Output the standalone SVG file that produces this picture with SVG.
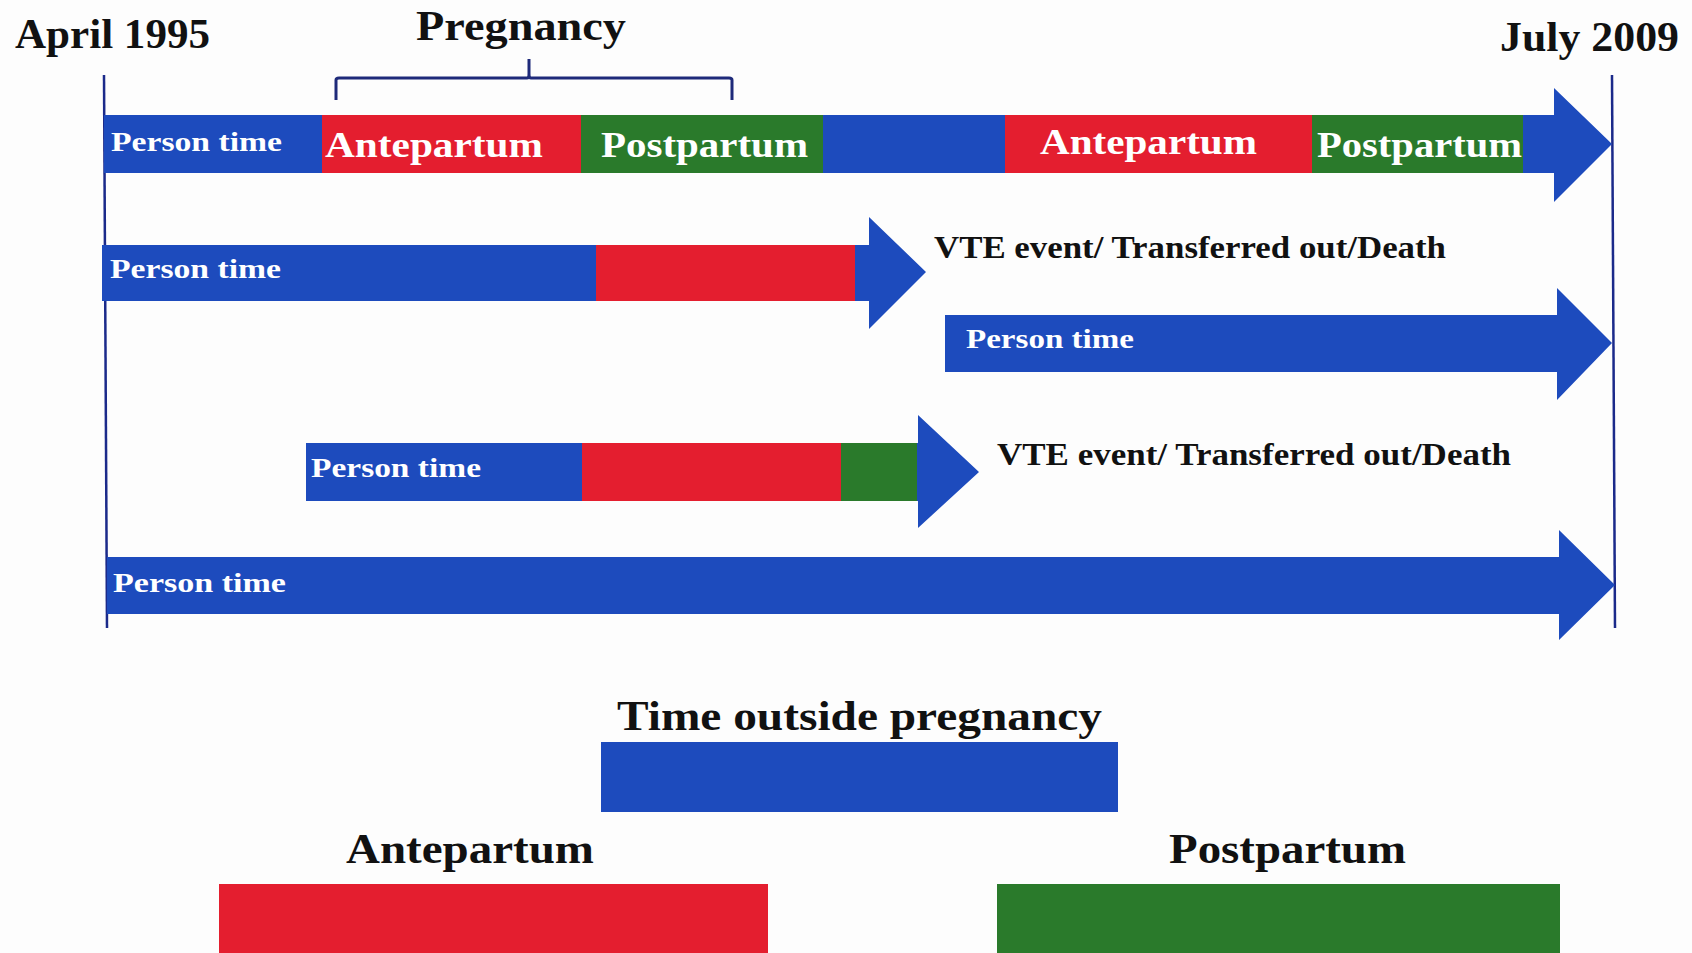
<svg xmlns="http://www.w3.org/2000/svg" width="1692" height="953" viewBox="0 0 1692 953">
<style>
.blue{fill:#1d4bbd}
.red{fill:#e41e2f}
.green{fill:#2a7a2b}
.axis{stroke:#1b2a8a;stroke-width:2.5;fill:none}
.lbl{font-family:"Liberation Serif","DejaVu Serif",serif;font-weight:bold;fill:#111}
.wt{font-family:"Liberation Serif","DejaVu Serif",serif;font-weight:bold;fill:#fff}
</style>
<rect width="1692" height="953" fill="#fdfdfd"/>
<g id="axes">
<line class="axis" x1="104" y1="75" x2="107" y2="628"/>
<line class="axis" x1="1612" y1="75" x2="1615" y2="628"/>
<text class="lbl" x="15" y="48" font-size="43" textLength="195" lengthAdjust="spacingAndGlyphs">April 1995</text>
<text class="lbl" x="1500" y="51" font-size="43" textLength="179" lengthAdjust="spacingAndGlyphs">July 2009</text>
</g>
<g id="pregnancy-bracket">
<path d="M336,100 V80 Q336,78 339,78 H527 Q529,78 529,74 V59 M529,74 Q529,78 531,78 H729 Q732,78 732,80 V100" stroke="#1e2a7a" stroke-width="3" fill="none"/>
<text class="lbl" x="416" y="40" font-size="43" textLength="210" lengthAdjust="spacingAndGlyphs">Pregnancy</text>
</g>
<g id="row1">
<polygon class="blue" points="104,115 1554,115 1554,88 1612,144 1554,202 1554,173 104,173"/>
<rect class="red" x="322" y="115" width="259" height="58"/>
<rect class="green" x="581" y="115" width="242" height="58"/>
<rect class="red" x="1005" y="115" width="307" height="58"/>
<rect class="green" x="1312" y="115" width="211" height="58"/>
<text class="wt" x="111" y="151" font-size="28" textLength="171" lengthAdjust="spacingAndGlyphs">Person time</text>
<text class="wt" x="325" y="157" font-size="35" textLength="218" lengthAdjust="spacingAndGlyphs">Antepartum</text>
<text class="wt" x="601" y="157" font-size="35" textLength="207" lengthAdjust="spacingAndGlyphs">Postpartum</text>
<text class="wt" x="1040" y="154" font-size="35" textLength="217" lengthAdjust="spacingAndGlyphs">Antepartum</text>
<text class="wt" x="1317" y="157" font-size="35" textLength="205" lengthAdjust="spacingAndGlyphs">Postpartum</text>
</g>
<g id="row2">
<polygon class="blue" points="102,245 869,245 869,217 926,272 869,329 869,301 102,301"/>
<rect class="red" x="596" y="245" width="259" height="56"/>
<text class="wt" x="110" y="278" font-size="28" textLength="171" lengthAdjust="spacingAndGlyphs">Person time</text>
<text class="lbl" x="934" y="258" font-size="32" textLength="512" lengthAdjust="spacingAndGlyphs">VTE event/ Transferred out/Death</text>
</g>
<g id="row3">
<polygon class="blue" points="945,315 1557,315 1557,288 1612,343 1557,400 1557,372 945,372"/>
<text class="wt" x="966" y="348" font-size="28" textLength="168" lengthAdjust="spacingAndGlyphs">Person time</text>
</g>
<g id="row4">
<polygon class="blue" points="306,443 918,443 918,415 979,472 918,528 918,501 306,501"/>
<rect class="red" x="582" y="443" width="259" height="58"/>
<rect class="green" x="841" y="443" width="76" height="58"/>
<text class="wt" x="311" y="477" font-size="28" textLength="170" lengthAdjust="spacingAndGlyphs">Person time</text>
<text class="lbl" x="997" y="465" font-size="32" textLength="514" lengthAdjust="spacingAndGlyphs">VTE event/ Transferred out/Death</text>
</g>
<g id="row5">
<polygon class="blue" points="107,557 1559,557 1559,530 1615,585 1559,640 1559,614 107,614"/>
<text class="wt" x="113" y="592" font-size="28" textLength="173" lengthAdjust="spacingAndGlyphs">Person time</text>
</g>
<g id="legend-outside">
<text class="lbl" x="617" y="730" font-size="43" textLength="485" lengthAdjust="spacingAndGlyphs">Time outside pregnancy</text>
<rect class="blue" x="601" y="742" width="517" height="70"/>
</g>
<g id="legend-antepartum">
<text class="lbl" x="346" y="863" font-size="43" textLength="248" lengthAdjust="spacingAndGlyphs">Antepartum</text>
<rect class="red" x="219" y="884" width="549" height="69"/>
</g>
<g id="legend-postpartum">
<text class="lbl" x="1169" y="863" font-size="43" textLength="237" lengthAdjust="spacingAndGlyphs">Postpartum</text>
<rect class="green" x="997" y="884" width="563" height="69"/>
</g>
</svg>
